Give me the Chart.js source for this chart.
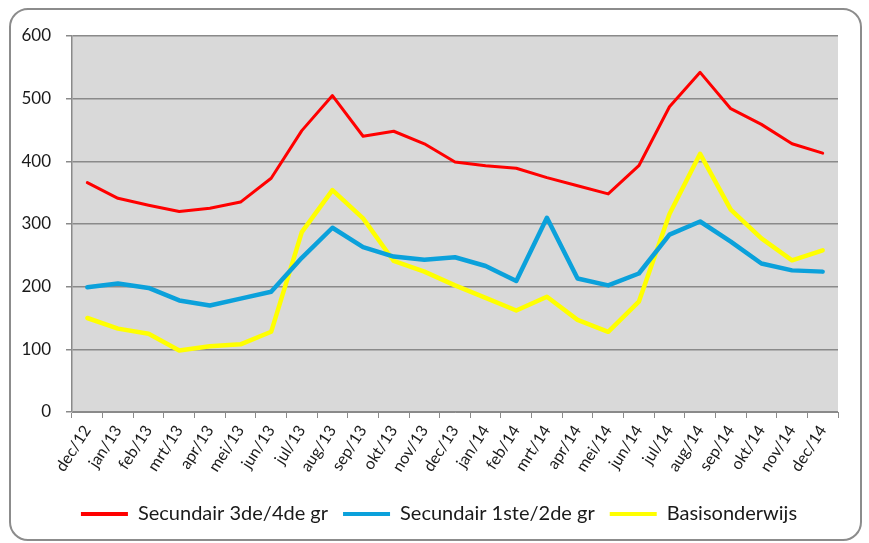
<!DOCTYPE html>
<html>
<head>
<meta charset="utf-8">
<script src="https://cdn.jsdelivr.net/npm/chart.js@4/dist/chart.umd.min.js"></script>
<style>
  html, body { margin: 0; padding: 0; background: #fff; }
  #wrap { width: 869px; height: 543px; position: relative; }
</style>
</head>
<body>
<div id="wrap"><canvas id="graf" width="869" height="543"></canvas></div>
<script>
// maanden dec/12 - dec/14
const months = ['dec/12','jan/13','feb/13','mrt/13','apr/13','mei/13','jun/13','jul/13','aug/13','sep/13','okt/13','nov/13','dec/13',
  'jan/14','feb/14','mrt/14','apr/14','mei/14','jun/14','jul/14','aug/14','sep/14','okt/14','nov/14','dec/14']

const sec34 = [366,341,330,320,325,335,373,449,505,440,448,428,399,393,389,374,361,348,393,487,542,484,459,428,413]
const sec12 = [199,205,198,178,170,181,192,246,294,263,248,243,247,233,209,310,213,202,221,283,304,272,237,226,224]
const basis = [150,133,125,98,105,108,128,287,354,309,241,224,202,182,162,184,147,128,176,316,412,323,277,242,258]

const yTicks = [0,100,200,300,400,500,600]

const font = 'Lato, "Liberation Sans", sans-serif'
const textColor = '#1a1a1a'
const lineGray = '#8a8a8a'

// grijze achtergrond + afgeronde rand
const frame = {
  id: 'frame',
  beforeDraw(chart) {
    const ctx = chart.ctx
    const a = chart.chartArea
    ctx.save()
    ctx.fillStyle = '#fff'
    ctx.fillRect(0, 0, chart.width, chart.height)
    ctx.fillStyle = '#d9d9d9'
    ctx.fillRect(a.left, a.top, a.right - a.left, a.bottom - a.top)
    ctx.strokeStyle = '#8c8c8c'
    ctx.lineWidth = 2
    ctx.beginPath()
    ctx.roundRect(10, 9, 851, 531, 18)
    ctx.stroke()
    ctx.restore()
  },
  afterLayout(chart) {
    // legende iets naar rechts, zoals in het origineel
    chart.legend.left += 10
    chart.legend.right += 10
  }
}

new Chart(document.getElementById('graf'), {
  type: 'line',
  data: {
    labels: months,
    datasets: [
      { label: 'Secundair 3de/4de gr', data: sec34, borderColor: '#ff0000', backgroundColor: '#ff0000', borderWidth: 3 },
      { label: 'Secundair 1ste/2de gr', data: sec12, borderColor: '#0ba1db', backgroundColor: '#0ba1db', borderWidth: 4.5 },
      { label: 'Basisonderwijs', data: basis, borderColor: '#ffff00', backgroundColor: '#ffff00', borderWidth: 4.5 }
    ]
  },
  options: {
    responsive: false,
    animation: false,
    layout: { padding: { top: 36, right: 31, bottom: 9, left: 20 } },
    elements: {
      point: { radius: 0 },
      line: { tension: 0, borderJoinStyle: 'round', borderCapStyle: 'round' }
    },
    scales: {
      x: {
        offset: true,
        grid: { offset: true, drawOnChartArea: false, drawTicks: true, tickLength: 6, color: lineGray },
        border: { color: lineGray, width: 1 },
        ticks: { minRotation: 57, maxRotation: 57, padding: 4, color: textColor, font: { family: font, size: 16 } },
        afterFit(s) { s.height = 77 }
      },
      y: {
        min: 0, max: 600,
        afterBuildTicks(s) { s.ticks = yTicks.map(v => ({ value: v })) },
        grid: { color: lineGray, lineWidth: 1.5, tickLength: 6 },
        border: { color: lineGray, width: 1.5 },
        ticks: { padding: 15, color: textColor, font: { family: font, size: 17 } },
        afterFit(s) { s.width = 52 }
      }
    },
    plugins: {
      legend: {
        position: 'bottom',
        labels: {
          boxWidth: 47, boxHeight: 4, padding: 15, color: textColor,
          font: { family: font, size: 20 },
          generateLabels(chart) {
            return Chart.defaults.plugins.legend.labels.generateLabels(chart).map(l => {
              l.lineWidth = 0
              l.fillStyle = l.strokeStyle
              return l
            })
          }
        }
      },
      tooltip: { enabled: false }
    }
  },
  plugins: [frame]
})
</script>
</body>
</html>
